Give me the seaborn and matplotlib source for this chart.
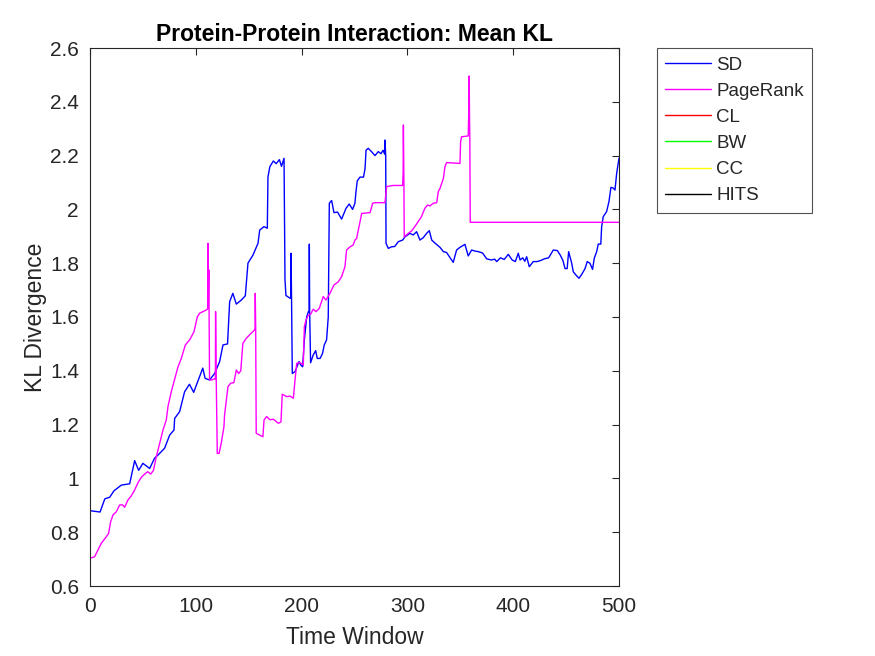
import matplotlib
matplotlib.use("Agg")
import matplotlib.pyplot as plt
import seaborn as sns
import pandas as pd

# ---------------- data (time window, mean KL) ----------------
sd_points = [
    (0, 0.88), (9.5, 0.875), (14, 0.924), (18.6, 0.93), (22.7, 0.954), (29.6, 0.975),
    (37.5, 0.98), (42.2, 1.066), (46, 1.03), (50, 1.056), (56.4, 1.037), (61, 1.075),
    (64.3, 1.087), (70.5, 1.112), (75.3, 1.161), (79.4, 1.18), (80, 1.223), (84.7, 1.248),
    (89.4, 1.322), (94, 1.35), (98, 1.32), (101.8, 1.36), (106.6, 1.41), (108.8, 1.372),
    (113, 1.366), (117.8, 1.39), (122.5, 1.434), (125.7, 1.496), (130, 1.5), (132, 1.657),
    (135, 1.688), (138.3, 1.648), (143, 1.663), (146.8, 1.679), (149.3, 1.80), (154, 1.83),
    (158.8, 1.874), (160.4, 1.923), (164.4, 1.936), (167.6, 1.93), (168.2, 2.12),
    (170, 2.159), (173.3, 2.18), (176, 2.17), (179, 2.185), (181, 2.16), (183.4, 2.19),
    (184.3, 1.738), (185.2, 1.68), (189, 1.67), (189.8, 1.67), (190, 1.837), (190.5, 1.67),
    (191.2, 1.39), (193.8, 1.397), (197.5, 1.434), (199.5, 1.42), (201, 1.415),
    (202.6, 1.515), (204.8, 1.60), (206.4, 1.62), (207.1, 1.62), (207.3, 1.871),
    (207.6, 1.62), (208.5, 1.43), (211, 1.459), (213.3, 1.475), (214.8, 1.446),
    (217.5, 1.446), (219.8, 1.465), (221.4, 1.496), (223.6, 1.515), (225.2, 1.60),
    (226.2, 2.023), (228.4, 2.033), (230.6, 1.988), (234, 1.99), (237.8, 1.964),
    (242, 2.004), (245, 2.02), (248.2, 2.0), (250.4, 2.023), (251.4, 2.066), (252.6, 2.106),
    (255.2, 2.12), (258.5, 2.12), (260, 2.153), (260.9, 2.22), (263, 2.227), (266, 2.215),
    (269.4, 2.2), (272.5, 2.215), (275, 2.207), (277, 2.22), (278.5, 2.205), (278.8, 2.258),
    (279.5, 2.2), (279.8, 1.874), (282, 1.855), (285, 1.861), (288, 1.862), (291.4, 1.88),
    (295.5, 1.886), (297.7, 1.898), (302.4, 1.911), (305.5, 1.905), (308.7, 1.917),
    (311.9, 1.886), (315, 1.895), (318.2, 1.911), (320.7, 1.921), (323, 1.886),
    (326, 1.875), (330.8, 1.859), (334, 1.843), (337, 1.84), (341.8, 1.812), (343.3, 1.803),
    (346.5, 1.849), (349.7, 1.859), (354.4, 1.87), (357.5, 1.827), (360.7, 1.849),
    (364, 1.845), (367, 1.843), (371, 1.838), (375, 1.816), (379.5, 1.812), (382.5, 1.815),
    (384.4, 1.806), (388, 1.82), (391.5, 1.814), (395.4, 1.833), (399, 1.812), (402, 1.806),
    (404.8, 1.837), (406.5, 1.812), (409, 1.82), (411, 1.807), (412.7, 1.824),
    (415.2, 1.787), (419, 1.806), (422.5, 1.806), (426, 1.81), (430, 1.817), (433.5, 1.82),
    (437.9, 1.849), (441.7, 1.847), (444.5, 1.83), (447, 1.81), (449, 1.78), (451, 1.78),
    (452.4, 1.843), (454, 1.82), (455.3, 1.8), (456.8, 1.768), (459.5, 1.755),
    (462.2, 1.744), (465, 1.76), (467.9, 1.78), (470, 1.806), (472.5, 1.80), (475, 1.777),
    (476.6, 1.818), (478.9, 1.843), (480.4, 1.871), (482.8, 1.871), (483.6, 1.936),
    (485.1, 1.973), (488.3, 1.992), (490.5, 2.029), (492.4, 2.082), (494.3, 2.08),
    (496.2, 2.072), (497.8, 2.134), (499.3, 2.171), (500, 2.19),
]

pagerank_points = [
    (0, 0.703), (4.4, 0.709), (7.6, 0.734), (10.7, 0.759), (15.4, 0.783), (17.6, 0.796),
    (19.5, 0.839), (21.7, 0.864), (24.9, 0.876), (28, 0.901), (30.5, 0.902), (32.8, 0.893),
    (35.9, 0.92), (39, 0.935), (42.2, 0.957), (45.5, 0.985), (48.5, 1.004), (51.6, 1.016),
    (54.5, 1.025), (57.3, 1.016), (60, 1.03), (62.7, 1.081), (65.8, 1.13), (69, 1.18),
    (72.1, 1.217), (73.7, 1.267), (76.8, 1.322), (80.6, 1.378), (83.2, 1.415),
    (86.3, 1.446), (90.1, 1.496), (94.2, 1.515), (98.3, 1.545), (101.4, 1.60),
    (103.6, 1.614), (106.8, 1.62), (109.9, 1.626), (111.2, 1.63), (111.5, 1.874),
    (111.8, 1.64), (112.3, 1.775), (113, 1.366), (115, 1.366), (117.8, 1.37), (118.5, 1.37),
    (118.7, 1.62), (119.2, 1.40), (120.3, 1.093), (122, 1.093), (124, 1.13), (126.6, 1.192),
    (127.2, 1.236), (130.4, 1.341), (133, 1.354), (136, 1.356), (138.3, 1.403),
    (140.5, 1.39), (142.5, 1.40), (144.5, 1.502), (147.7, 1.521), (152.4, 1.54),
    (155.6, 1.552), (156.0, 1.56), (156.2, 1.688), (156.6, 1.56), (157.1, 1.168),
    (160.3, 1.161), (163.4, 1.155), (164.5, 1.217), (167, 1.23), (170, 1.218),
    (173.3, 1.22), (178, 1.205), (180.5, 1.21), (181.7, 1.313), (185.9, 1.304),
    (189, 1.306), (192.2, 1.298), (193.8, 1.366), (195.4, 1.428), (198.5, 1.43),
    (201.6, 1.422), (202.6, 1.564), (204.2, 1.589), (206.4, 1.607), (208.5, 1.61),
    (211, 1.629), (213.6, 1.62), (216.7, 1.632), (220.5, 1.676), (223, 1.663),
    (226.8, 1.688), (230.6, 1.719), (234.7, 1.731), (237.8, 1.75), (241, 1.787),
    (242.5, 1.849), (245.5, 1.86), (248.8, 1.868), (250.4, 1.886), (252, 1.892),
    (253.6, 1.923), (256.8, 1.985), (264.7, 1.988), (267.2, 2.023), (269.4, 2.025),
    (278.8, 2.025), (280.4, 2.085), (286.6, 2.089), (295.5, 2.089), (296, 2.14),
    (296.2, 2.314), (296.4, 2.24), (296.7, 2.10), (297, 1.898), (300.8, 1.911), (304, 1.92),
    (307, 1.936), (310.2, 1.955), (313.3, 1.973), (316.5, 2.004), (319, 2.016),
    (321.4, 2.013), (324.5, 2.023), (327.7, 2.025), (329.2, 2.066), (330.8, 2.078),
    (332.4, 2.097), (334, 2.115), (335.5, 2.159), (337.1, 2.174), (349.7, 2.171),
    (350.3, 2.252), (351.2, 2.27), (357.5, 2.273), (358.1, 2.38), (358.4, 2.496),
    (358.7, 2.35), (359, 2.258), (359.4, 1.952), (500, 1.952),
]

series_labels = ["SD", "PageRank", "CL", "BW", "CC", "HITS"]
series_colors = ["#0000ff", "#ff00ff", "#ff0000", "#00ff00", "#ffff00", "#000000"]

x_ticks = [0, 100, 200, 300, 400, 500]
y_ticks = [0.6, 0.8, 1.0, 1.2, 1.4, 1.6, 1.8, 2.0, 2.2, 2.4, 2.6]
y_tick_labels = ["0.6", "0.8", "1", "1.2", "1.4", "1.6", "1.8", "2", "2.2", "2.4", "2.6"]

# ---------------- style ----------------
sns.set_theme(style="white")
plt.rcParams["font.family"] = ["Liberation Sans", "DejaVu Sans"]

fig = plt.figure(figsize=(8.75, 6.56), dpi=100)
ax = fig.add_axes([90 / 875, 1 - 586 / 656, (619 - 90) / 875, (586 - 48) / 656])

df_sd = pd.DataFrame(sd_points, columns=["x", "y"])
df_pr = pd.DataFrame(pagerank_points, columns=["x", "y"])

sns.lineplot(data=df_sd, x="x", y="y", ax=ax, color=series_colors[0], lw=1.0,
             estimator=None, sort=False, label=series_labels[0])
sns.lineplot(data=df_pr, x="x", y="y", ax=ax, color=series_colors[1], lw=1.0,
             estimator=None, sort=False, label=series_labels[1])
for lab, col in zip(series_labels[2:], series_colors[2:]):
    ax.plot([], [], color=col, lw=1.0, label=lab)

ax.set_xlim(0, 500)
ax.set_ylim(0.6, 2.6)
ax.set_xticks(x_ticks)
ax.set_yticks(y_ticks)
ax.set_yticklabels(y_tick_labels)
ax.tick_params(direction="in", length=5, width=0.8, top=True, right=True,
               labelsize=15, colors="#262626", labelcolor="#262626")
ax.tick_params(axis="x", pad=8)
ax.tick_params(axis="y", pad=8)
for s in ax.spines.values():
    s.set_visible(True)
    s.set_color("#262626")
    s.set_linewidth(0.8)

ax.set_xlabel("Time Window", fontsize=16.5, color="#262626", labelpad=7)
ax.set_ylabel("KL Divergence", fontsize=16.5, color="#262626", labelpad=2)
ax.set_title("Protein-Protein Interaction: Mean KL", fontsize=16.5, fontweight="bold",
             color="black", pad=5)

leg = ax.legend(loc="upper left", bbox_to_anchor=(657 / 875, 1 - 48 / 656),
                bbox_transform=fig.transFigure, fontsize=13.5, frameon=True,
                fancybox=False, edgecolor="#262626", handlelength=2.45,
                labelspacing=0.48, borderpad=0.45, handletextpad=0.25,
                borderaxespad=0)
leg.get_frame().set_linewidth(0.8)

fig.savefig("out.png", dpi=100, facecolor="white")
